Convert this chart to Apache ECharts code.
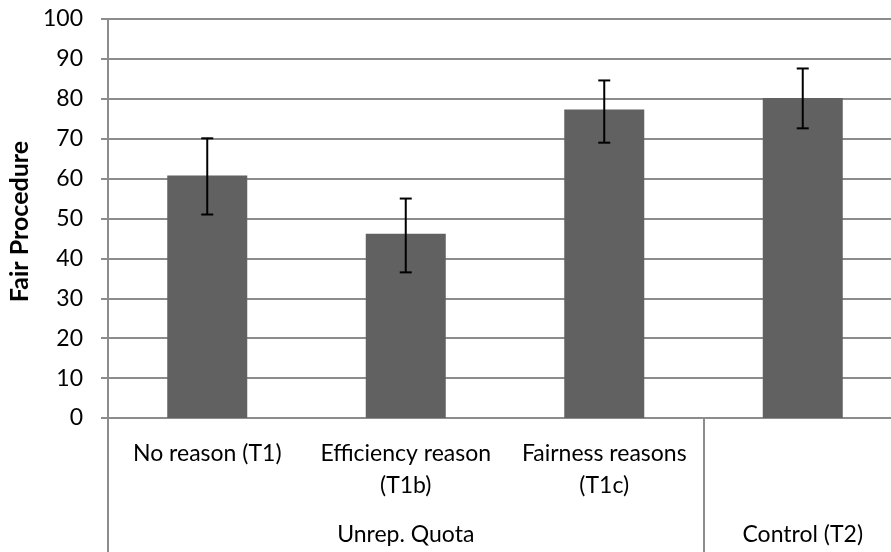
<!DOCTYPE html>
<html>
<head>
<meta charset="utf-8">
<script src="https://cdn.jsdelivr.net/npm/echarts@6/dist/echarts.min.js"></script>
<style>html,body{margin:0;padding:0;background:#fff}#c{width:891px;height:552px}</style>
</head>
<body>
<div id="c"></div>
<script>
var categories = ['No reason (T1)', 'Efficiency reason\n(T1b)', 'Fairness reasons\n(T1c)', ''];
var groupLabels = ['', 'Unrep. Quota', '', 'Control (T2)'];
var values = [60.8, 46.2, 77.3, 80.2];
var errLow = [51.0, 36.5, 69.0, 72.6];
var errHigh = [70.1, 55.0, 84.6, 87.6];
var yTicks = [0, 100, 10];

var FONT = 'Lato, "Open Sans", sans-serif';
var GRAY = '#8c8c8c';
var chart = echarts.init(document.getElementById('c'), null, {renderer: 'canvas'});
chart.setOption({
  animation: false,
  backgroundColor: '#fff',
  grid: {left: 108, top: 19, height: 399, width: 794, containLabel: false, outerBoundsMode: 'none'},
  xAxis: [{
    type: 'category', data: categories, gridIndex: 0, position: 'bottom',
    axisLine: {show: true, lineStyle: {color: GRAY, width: 2}},
    axisTick: {show: false},
    axisLabel: {interval: 0, margin: 20, lineHeight: 32, fontSize: 23, fontFamily: FONT, color: '#000', align: 'center'}
  }, {
    type: 'category', data: groupLabels, gridIndex: 0, position: 'bottom',
    axisLine: {show: false},
    axisTick: {show: true, length: 134, inside: false, lineStyle: {color: GRAY, width: 2},
      interval: function (i) { return i === 0 || i === 3; }},
    axisLabel: {interval: 0, margin: 101, lineHeight: 32, fontSize: 23, fontFamily: FONT, color: '#000'}
  }],
  yAxis: {
    type: 'value', min: yTicks[0], max: yTicks[1], interval: yTicks[2],
    name: 'Fair Procedure', nameLocation: 'middle', nameGap: 72, nameRotate: 90,
    nameTextStyle: {fontSize: 25, fontWeight: 'bold', fontFamily: FONT, color: '#000', padding: [0, 6, 0, 0]},
    axisLine: {show: true, lineStyle: {color: GRAY, width: 2}},
    axisTick: {show: true, length: 7, lineStyle: {color: GRAY, width: 2}},
    axisLabel: {margin: 25, fontSize: 23, fontFamily: FONT, color: '#000'},
    splitLine: {show: true, lineStyle: {color: GRAY, width: 2}}
  },
  series: [{
    type: 'bar', data: values, barWidth: 80, xAxisIndex: 0,
    itemStyle: {color: '#616161'}
  }, {
    type: 'custom', xAxisIndex: 0,
    data: categories.map(function (c, i) { return [i, errLow[i], errHigh[i]]; }),
    renderItem: function (params, api) {
      var lo = api.coord([api.value(0), api.value(1)]);
      var hi = api.coord([api.value(0), api.value(2)]);
      var w = 6;
      var st = {stroke: '#000', lineWidth: 2};
      return {type: 'group', children: [
        {type: 'line', shape: {x1: hi[0], y1: hi[1], x2: lo[0], y2: lo[1]}, style: st},
        {type: 'line', shape: {x1: hi[0] - w, y1: hi[1], x2: hi[0] + w, y2: hi[1]}, style: st},
        {type: 'line', shape: {x1: lo[0] - w, y1: lo[1], x2: lo[0] + w, y2: lo[1]}, style: st}
      ]};
    },
    z: 10
  }]
});
</script>
</body>
</html>
